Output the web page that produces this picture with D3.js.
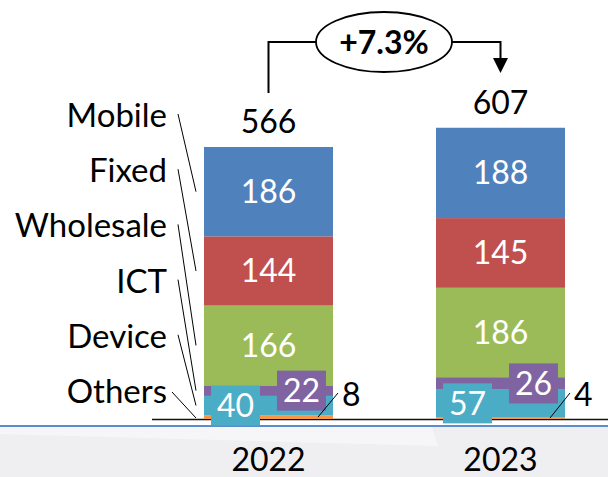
<!DOCTYPE html>
<html>
<head>
<meta charset="utf-8">
<script src="https://cdn.jsdelivr.net/npm/d3@7"></script>
<style>
  body { margin: 0; background: #fff; }
  svg { display: block; font-family: Lato, "Open Sans", sans-serif; }
</style>
</head>
<body>
<script>
// revenue by segment, stacked bottom -> top
var years = ["2022", "2023"];
var segments = ["Others", "Device", "ICT", "Wholesale", "Fixed", "Mobile"];
var others = [8, 4];
var device = [40, 57];
var ict = [22, 26];
var wholesale = [166, 186];
var fixed = [144, 145];
var mobile = [186, 188];
var totals = [566, 607];
var growth = "+7.3%";

// legend order on the left, top -> bottom
var legendOrder = ["Mobile", "Fixed", "Wholesale", "ICT", "Device", "Others"];

var colors = {
  Mobile: "#4F81BD",
  Fixed: "#C0504D",
  Wholesale: "#9BBB59",
  ICT: "#8064A2",
  Device: "#4BACC6",
  Others: "#F79646"
};

var svgWidth = 608, svgHeight = 477;
var baseY = 419;

var svg = d3.select("body").append("svg")
  .attr("width", svgWidth)
  .attr("height", svgHeight);

// grey floor under the chart
svg.append("rect")
  .attr("x", 0).attr("y", 426)
  .attr("width", svgWidth).attr("height", svgHeight - 426)
  .attr("fill", "#efeff2");
svg.append("polygon")
  .attr("points", "0,427 432,427 438,446 0,434")
  .attr("fill", "#f6f6f8");
svg.append("line")
  .attr("x1", 0).attr("x2", svgWidth)
  .attr("y1", 426).attr("y2", 426)
  .attr("stroke", "#5b8ccc").attr("stroke-width", 2);

// build table for the stack
var table = years.map(function(y, i) {
  return {
    year: y,
    Others: others[i], Device: device[i], ICT: ict[i],
    Wholesale: wholesale[i], Fixed: fixed[i], Mobile: mobile[i]
  };
});
var series = d3.stack().keys(segments)(table);

var x = d3.scaleBand()
  .domain(years)
  .range([101, 668])
  .paddingInner(0.444)
  .paddingOuter(0.444);

var y = d3.scaleLinear()
  .domain([0, 600])
  .range([baseY, baseY - 0.4806 * 600]);

// baseline
svg.append("line")
  .attr("x1", 152).attr("x2", svgWidth)
  .attr("y1", baseY + 0.5).attr("y2", baseY + 0.5)
  .attr("stroke", "#111").attr("stroke-width", 1.5);

// bars
svg.selectAll("g.seg")
  .data(series)
  .enter().append("g")
  .attr("class", "seg")
  .attr("fill", function(s) { return colors[s.key]; })
  .selectAll("rect")
  .data(function(s) { return s; })
  .enter().append("rect")
  .attr("x", function(d) { return x(d.data.year); })
  .attr("y", function(d) { return y(d[1]); })
  .attr("width", x.bandwidth())
  .attr("height", function(d) { return y(d[0]) - y(d[1]); });

// labels inside the big segments
["Wholesale", "Fixed", "Mobile"].forEach(function(key) {
  var s = series.find(function(t) { return t.key == key; });
  svg.selectAll(null)
    .data(s)
    .enter().append("text")
    .attr("x", function(d) { return x(d.data.year) + x.bandwidth() / 2; })
    .attr("y", function(d) { return (y(d[0]) + y(d[1])) / 2; })
    .attr("dy", "0.36em")
    .attr("text-anchor", "middle")
    .attr("fill", "#fff")
    .attr("font-size", "32px")
    .text(function(d) { return d[1] - d[0]; });
});

// boxed labels for the small segments
var boxW = 49, boxH = 40;
[["Device", 7], ["ICT", -1]].forEach(function(p) {
  var key = p[0];
  var s = series.find(function(t) { return t.key == key; });
  var bx = function(d) {
    return p[1] > 0 ? x(d.data.year) + 7 : x(d.data.year) + x.bandwidth() - 7 - boxW;
  };
  var g = svg.selectAll(null).data(s).enter().append("g");
  g.append("rect")
    .attr("x", bx)
    .attr("y", function(d) { return (y(d[0]) + y(d[1])) / 2 - boxH / 2; })
    .attr("width", boxW).attr("height", boxH)
    .attr("fill", colors[key]);
  g.append("text")
    .attr("x", function(d) { return bx(d) + boxW / 2; })
    .attr("y", function(d) { return (y(d[0]) + y(d[1])) / 2; })
    .attr("dy", "0.36em")
    .attr("text-anchor", "middle")
    .attr("fill", "#fff")
    .attr("font-size", "32px")
    .text(function(d) { return d[1] - d[0]; });
});

// "Others" value outside with a leader line
var sOthers = series.find(function(t) { return t.key == "Others"; });
var og = svg.selectAll(null).data(sOthers).enter().append("g");
og.append("line")
  .attr("x1", function(d) { return x(d.data.year) + x.bandwidth() - 15; })
  .attr("y1", function(d) { return y(d[1] / 2); })
  .attr("x2", function(d) { return x(d.data.year) + x.bandwidth() + 5; })
  .attr("y2", 393)
  .attr("stroke", "#000").attr("stroke-width", 1);
og.append("text")
  .attr("x", function(d) { return x(d.data.year) + x.bandwidth() + 9; })
  .attr("y", 406)
  .attr("font-size", "32px")
  .attr("fill", "#000")
  .text(function(d) { return d[1] - d[0]; });

// totals above the bars
svg.selectAll(null)
  .data(totals)
  .enter().append("text")
  .attr("x", function(d, i) { return x(years[i]) + x.bandwidth() / 2; })
  .attr("y", function(d, i) { return y(d3.sum(series, function(s) { return s[i][1] - s[i][0]; })) - 14; })
  .attr("text-anchor", "middle")
  .attr("font-size", "32px")
  .text(function(d) { return d; });

// year labels
svg.selectAll(null)
  .data(years)
  .enter().append("text")
  .attr("x", function(d) { return x(d) + x.bandwidth() / 2; })
  .attr("y", 471)
  .attr("text-anchor", "middle")
  .attr("font-size", "32px")
  .text(function(d) { return d; });

// legend labels with leader lines to the 2022 bar
var bar0 = x(years[0]);
legendOrder.forEach(function(key, i) {
  var by = 127 + i * 55.2;
  svg.append("text")
    .attr("x", 167)
    .attr("y", by)
    .attr("text-anchor", "end")
    .attr("font-size", "33px")
    .text(key);
  var s = series.find(function(t) { return t.key == key; });
  var d = s[0];
  var ty = key == "Others" ? baseY - 1 : (y(d[0]) + y(d[1])) / 2;
  svg.append("line")
    .attr("x1", key == "Others" ? 172 : 178)
    .attr("y1", key == "Others" ? by - 11 : by - 13)
    .attr("x2", bar0 - 8)
    .attr("y2", ty)
    .attr("stroke", "#000").attr("stroke-width", 1);
});

// growth arrow
var cx0 = bar0 + x.bandwidth() / 2;
var cx1 = x(years[1]) + x.bandwidth() / 2;
var arrowY = 42;
svg.append("path")
  .attr("d", "M" + cx0 + ",93 V" + arrowY + " H" + cx1 + " V60")
  .attr("fill", "none")
  .attr("stroke", "#000").attr("stroke-width", 2);
svg.append("path")
  .attr("d", "M" + (cx1 - 7.5) + ",58 L" + (cx1 + 7.5) + ",58 L" + cx1 + ",73 Z")
  .attr("fill", "#000");
svg.append("ellipse")
  .attr("cx", 384).attr("cy", arrowY)
  .attr("rx", 68).attr("ry", 30)
  .attr("fill", "#fff")
  .attr("stroke", "#000").attr("stroke-width", 1.8);
svg.append("text")
  .attr("x", 384).attr("y", arrowY)
  .attr("dy", "0.36em")
  .attr("text-anchor", "middle")
  .attr("font-size", "32px")
  .attr("font-weight", "bold")
  .text(growth);
</script>
</body>
</html>
